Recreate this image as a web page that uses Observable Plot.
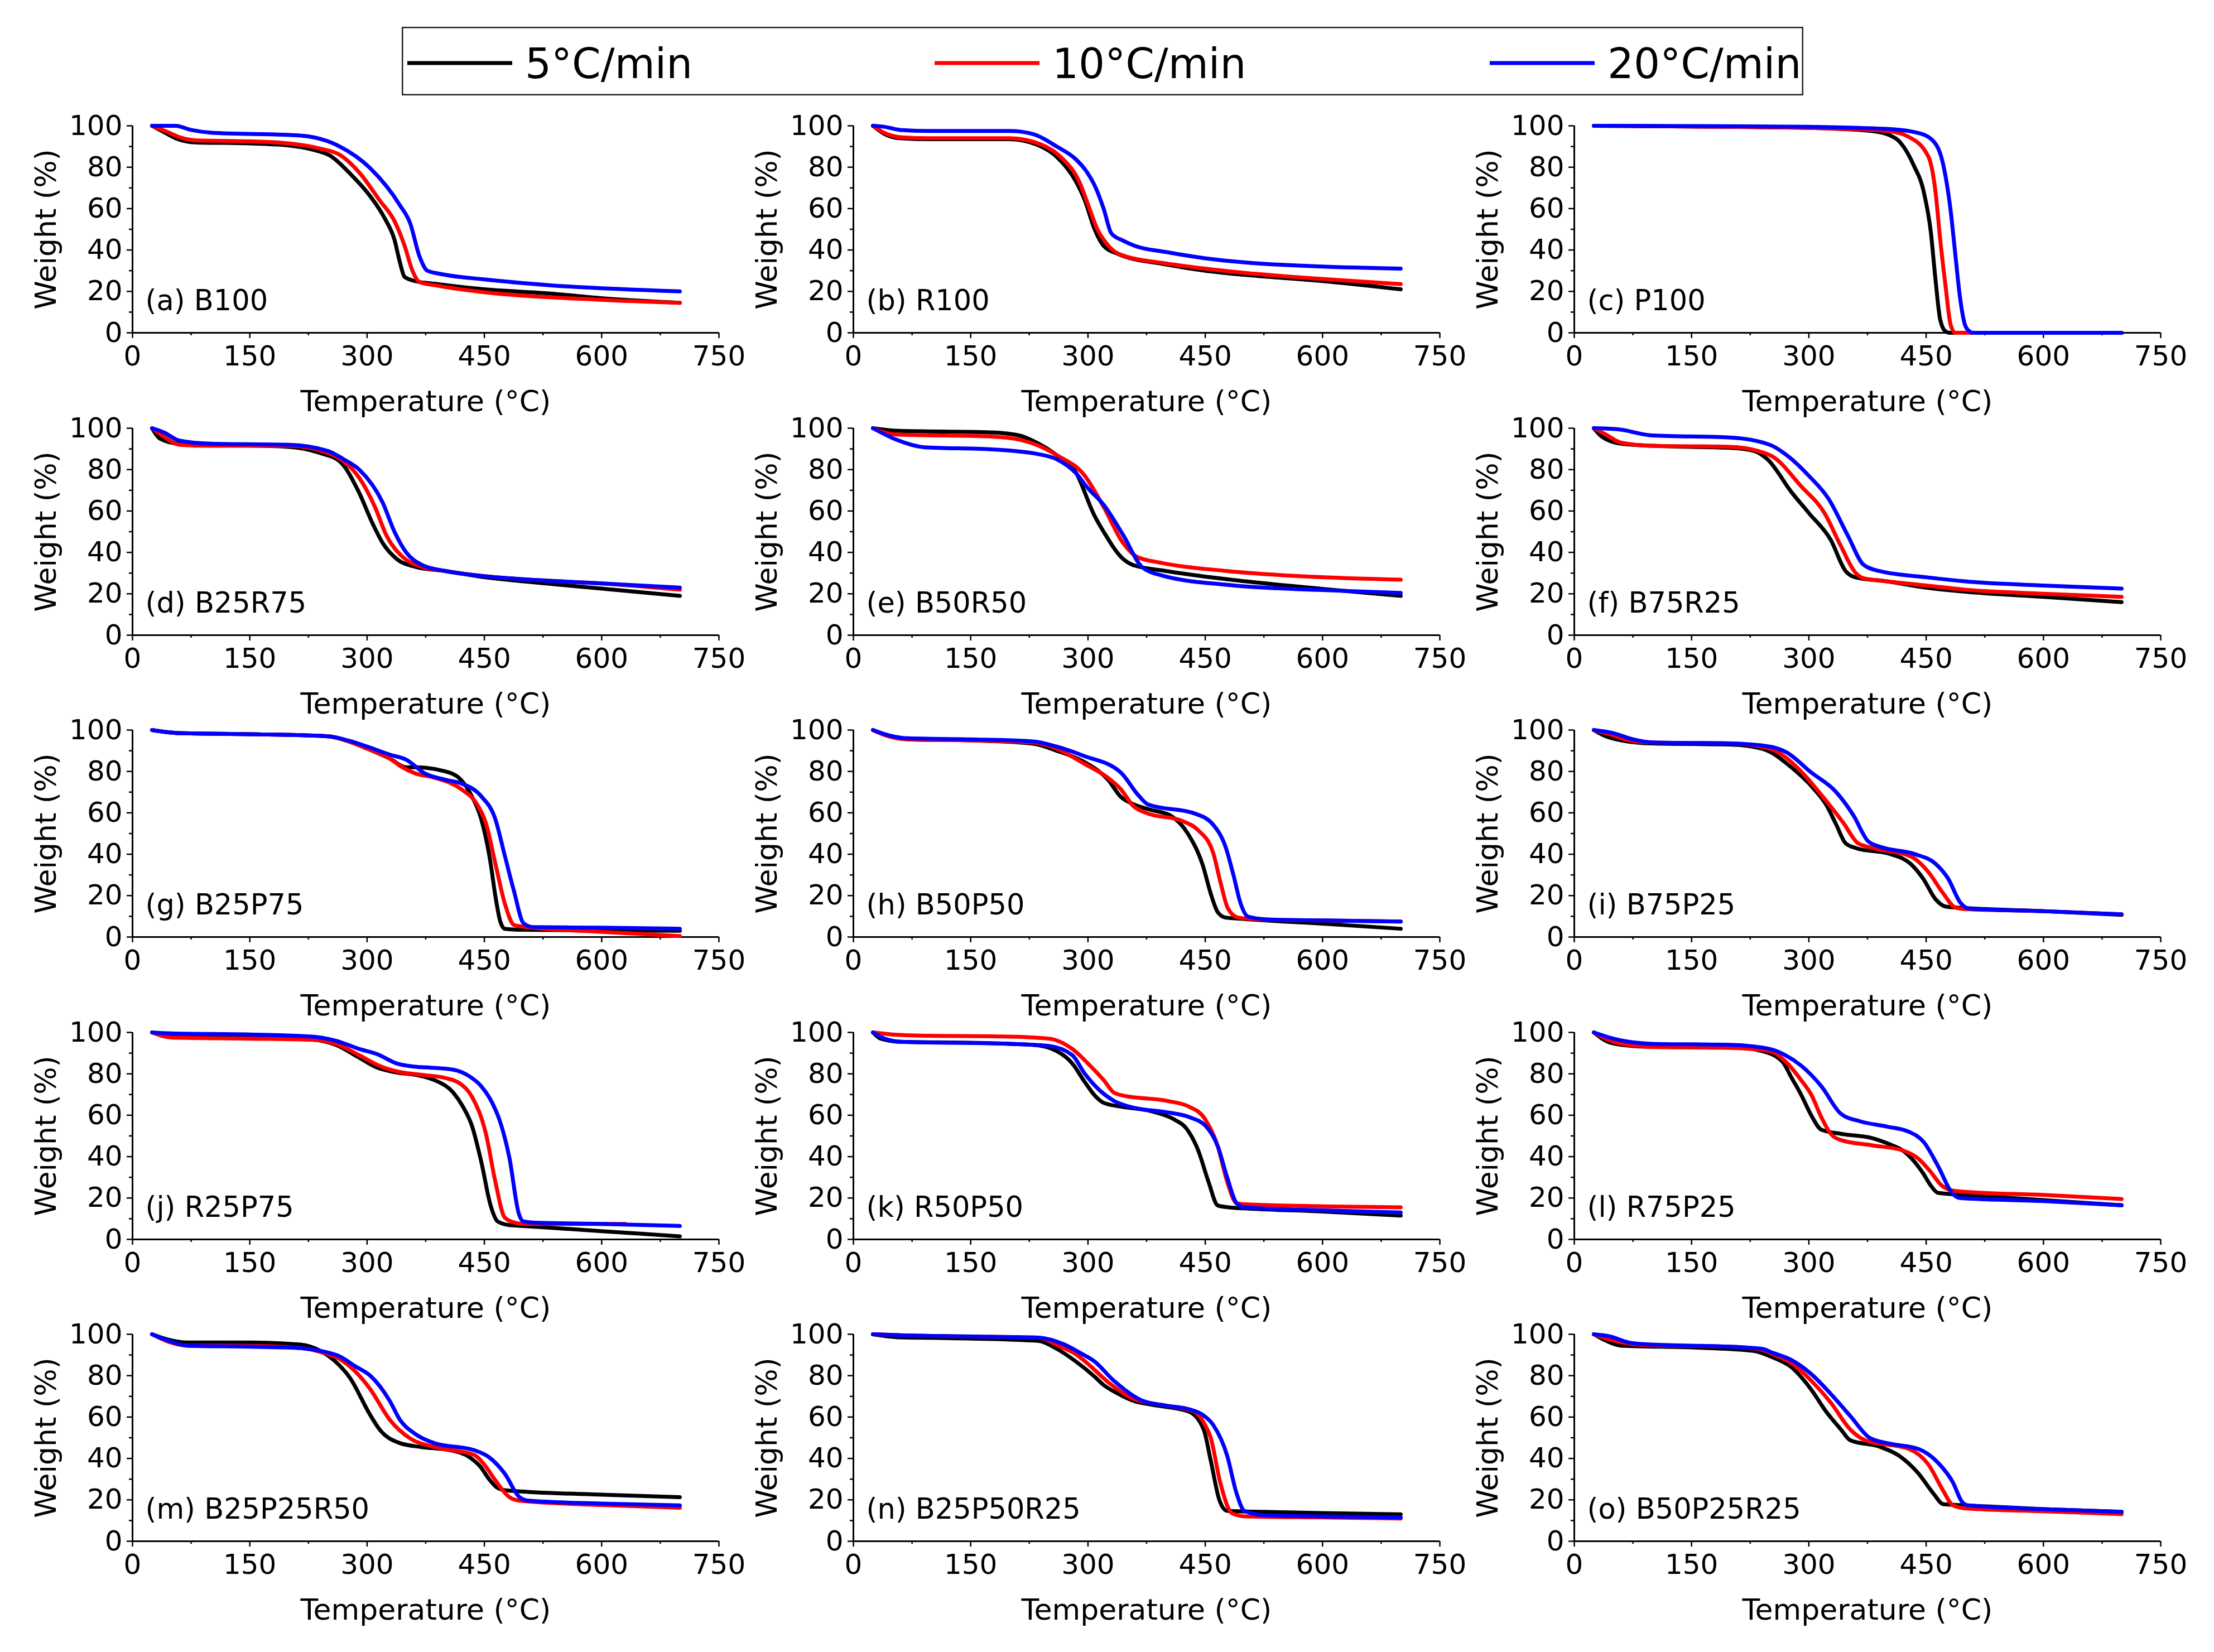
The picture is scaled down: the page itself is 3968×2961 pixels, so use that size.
<!DOCTYPE html>
<html><head><meta charset="utf-8">
<script src="https://cdn.jsdelivr.net/npm/d3@7"></script>
<script src="https://cdn.jsdelivr.net/npm/@observablehq/plot@0.6"></script>
<style>
html,body{margin:0;padding:0;background:#fff;}
#page{position:relative;width:3968px;height:2961px;background:#fff;overflow:hidden;font-family:"DejaVu Sans",sans-serif;}
</style></head><body><div id="page"></div>
<script>
// ---------- labels / ticks ----------
const rates = ["5°C/min", "10°C/min", "20°C/min"];
const rateColors = ["#000000", "#ff0000", "#0000ff"];
const xTicks = [0, 150, 300, 450, 600, 750];
const xMinorTicks = [75, 225, 375, 525, 675];
const yTicks = [0, 20, 40, 60, 80, 100];
const yMinorTicks = [10, 30, 50, 70, 90];
const xTitle = "Temperature (°C)";
const yTitle = "Weight (%)";
const panelLabels = ["(a) B100", "(b) R100", "(c) P100", "(d) B25R75", "(e) B50R50", "(f) B75R25",
  "(g) B25P75", "(h) B50P50", "(i) B75P25", "(j) R25P75", "(k) R50P50", "(l) R75P25",
  "(m) B25P25R50", "(n) B25P50R25", "(o) B50P25R25"];

// ---------- data: [temperature °C, weight %] ----------
const B100_5 = [[25,100],[40,97],[55,94],[80,92],[150,91.5],[200,90.5],[230,88.5],[253,85.5],[278,77],[304,66],[323,55],[335,45],[342,34],[348,27],[361,25],[386,23.7],[450,21],[533,19],[597,16.8],[700,14.5]];
const B100_10 = [[25,100],[45,97],[60,94.5],[80,93],[150,92.5],[200,91.5],[240,89],[265,86],[291,77],[316,64],[335,54],[348,42],[358,30],[367,24.5],[386,23],[450,19.6],[597,16],[700,14.5]];
const B100_20 = [[25,100],[55,100],[75,98],[100,96.7],[215,95.3],[250,92.5],[265,90],[304,79.5],[342,61.6],[355,53],[367,37],[377,30],[393,28.5],[450,25.8],[533,23],[700,20]];

const R100_5 = [[25,100],[40,96],[60,94],[100,93.5],[200,93.5],[240,90],[260,85],[284,73.5],[296,64],[308,50.5],[320,42],[339,38],[400,33],[450,30],[500,28],[600,25],[700,21]];
const R100_10 = [[25,100],[40,96.5],[60,94.5],[100,94],[200,94],[240,91],[265,85],[290,72],[300,62],[312,50],[322,44],[340,38],[400,33.5],[450,31],[500,29],[600,26],[700,23.5]];
const R100_20 = [[25,100],[40,99.5],[60,98],[100,97.5],[200,97.5],[230,96],[260,90],[284,84],[298,78],[310,70],[320,60],[330,48],[345,44.5],[360,42],[400,39],[450,36],[500,34],[600,32],[700,31]];

const P100_5 = [[25,100],[200,99.5],[300,99],[380,97.5],[403,95.5],[415,92.7],[434,81],[447,68],[456,48.6],[462,25.5],[468,6.3],[475,0.6],[480,0],[700,0]];
const P100_10 = [[25,100],[200,99.5],[300,99],[400,97.5],[428,94.6],[453,85],[462,68],[468,45],[475,22],[481,4.4],[487,0],[700,0]];
const P100_20 = [[25,100],[200,99.8],[300,99.5],[400,98.5],[440,96.5],[459,92.7],[472,81],[481,60],[487,39],[493,18],[500,3.5],[506,0.5],[510,0],[700,0]];

const B25R75_5 = [[25,100],[35,95],[60,92.5],[100,92],[200,91],[240,88],[265,84],[289,69.5],[307,54],[320,44.5],[338,36.8],[362,33],[400,31],[450,28],[500,26],[600,22.5],[700,19]];
const B25R75_10 = [[25,100],[40,96],[60,92],[100,91.5],[200,91.5],[250,88],[270,84],[290,76],[310,62],[325,48],[345,38],[370,33],[400,31],[450,28.5],[500,27],[600,25],[700,22]];
const B25R75_20 = [[25,100],[40,98],[60,94],[100,92.5],[200,92],[250,89],[270,85],[290,80],[320,64],[335,50],[350,40],[370,34],[400,31],[450,28.5],[500,27],[600,25],[700,23]];

const B50R50_5 = [[25,100],[54,98.8],[175,98],[212,96.5],[236,92.7],[260,87],[284,79],[308,58],[320,50],[345,36.8],[357,34],[400,31],[478,27],[599,22.4],[700,19]];
const B50R50_10 = [[25,100],[54,97],[175,96],[212,94.5],[236,91.7],[260,87],[296,77],[320,62],[345,44.5],[363,37.8],[393,35],[478,31],[599,28],[700,26.8]];
const B50R50_20 = [[25,100],[54,94.6],[91,90.8],[175,89.8],[236,87.5],[260,85],[284,78.5],[300,71],[320,63],[345,48.4],[369,33],[393,29],[478,24.3],[599,21.8],[700,20.4]];

const B75R25_5 = [[25,100],[35,96],[60,92.5],[100,91.5],[200,90.5],[230,89],[247,85],[278,69],[300,59],[328,46],[347,31],[359,28],[400,26],[450,23],[500,21],[600,18.5],[700,16]];
const B75R25_10 = [[25,100],[40,97],[60,93],[100,91.5],[200,91],[235,89],[255,86],[290,72],[320,59],[341,43],[360,30],[370,27.5],[400,26],[450,24],[500,22],[600,20],[700,18.5]];
const B75R25_20 = [[25,100],[55,99.5],[100,96.5],[200,95.5],[250,92],[275,86],[300,77],[325,66],[350,48],[370,34],[390,31],[450,28],[500,26],[600,24],[700,22.5]];

const B25P75_5 = [[25,100],[60,98.5],[150,98],[250,97],[280,94],[300,91],[330,86],[350,82],[362,82],[400,80],[420,76],[434,68],[446,57],[458,35.6],[464,20],[470,8],[476,4],[500,3.5],[600,3.2],[700,3]];
const B25P75_10 = [[25,100],[60,98.5],[150,98],[250,97],[280,94],[300,91],[330,86],[345,82],[362,79],[386,77],[422,71],[440,64.5],[452,55],[464,35.6],[476,16.4],[488,5.8],[500,5],[600,2.5],[700,0.5]];
const B25P75_20 = [[25,100],[60,98.5],[150,98],[250,97],[280,94.5],[300,92],[330,88],[350,85.7],[374,79],[400,76],[422,74],[446,68],[464,57],[476,39.5],[488,22],[500,6.7],[512,4.8],[600,4.5],[700,4]];

const B50P50_5 = [[25,100],[45,97],[70,95.5],[150,95],[230,93.4],[260,90],[294,84.8],[326,75.8],[342,67.7],[358,64.2],[380,61.5],[405,58.8],[428,49.8],[447,34.5],[457,21],[466,12],[476,9.4],[500,8.7],[550,7.5],[600,6.5],[700,4]];
const B50P50_10 = [[25,100],[45,97],[70,95.5],[150,95],[230,94],[260,91],[294,84],[326,76.8],[342,71.4],[358,63.3],[374,60],[421,56],[441,51.6],[460,40.8],[470,25.6],[479,13.8],[492,9.4],[520,8.5],[600,8],[700,7.5]];
const B50P50_20 = [[25,100],[45,97.5],[70,96],[150,95.5],[230,94.5],[260,92],[294,87.6],[342,79.5],[364,68.7],[377,64],[437,59.6],[460,54.3],[476,43.5],[486,30],[495,16.5],[505,9.8],[530,8.5],[600,8],[700,7.5]];

const B75P25_5 = [[25,100],[40,97],[60,95],[100,93.5],[200,93],[240,91],[255,88.5],[271,84],[303,73],[322,64],[335,54.3],[347,45.3],[360,43],[405,40],[430,35.4],[446,28.3],[462,18.3],[475,14.7],[500,14],[600,12.5],[700,10.7]];
const B75P25_10 = [[25,100],[45,98],[70,95],[100,94],[200,93.5],[250,91],[271,86.6],[295,78],[318,67.7],[344,55.2],[363,45.3],[382,43],[430,39],[452,31.8],[472,21],[487,14.3],[500,13.5],[600,12.5],[700,11]];
const B75P25_20 = [[25,100],[50,98.5],[75,95.5],[100,94],[200,93.5],[250,92],[271,89.3],[303,79.5],[334,70.4],[357,58.8],[376,46.2],[392,43.5],[436,40],[462,35.4],[478,28.3],[494,16.5],[504,13.8],[550,13],[600,12.5],[700,11]];

const R25P75_5 = [[25,100],[50,98],[150,97.5],[230,96.5],[260,94],[289,88],[313,83],[340,80.5],[362,79.5],[386,77],[410,71],[422,64.5],[434,55],[446,37.6],[458,16.4],[467,8.7],[480,7],[500,6.5],[600,4],[700,1.5]];
const R25P75_10 = [[25,100],[50,97.5],[150,97],[230,96.5],[260,94.5],[290,89],[315,84],[340,81],[370,79.5],[400,78],[420,75],[434,69],[452,51],[464,28],[476,10.6],[490,8],[500,7.5],[600,7.5],[630,7.5]];
const R25P75_20 = [[25,100],[50,99.5],[150,99],[230,98],[260,96],[290,92],[313,89.5],[338,85],[360,83.5],[380,83],[410,82],[430,79],[446,74],[460,66],[470,57],[482,39.5],[494,12.5],[500,8.7],[520,8],[600,7.5],[700,6.5]];

const R50P50_5 = [[25,100],[35,97],[60,95.5],[150,95],[230,94],[260,91],[280,85],[296,76],[310,69],[320,66],[345,64],[380,62],[410,58],[425,54],[441,43],[454,28],[466,16.4],[480,15.5],[500,15],[600,13.5],[700,11.5]];
const R50P50_10 = [[25,100],[50,99],[80,98.5],[200,98],[250,97],[280,92],[300,85],[320,77],[333,71],[345,69.5],[400,67],[430,64],[450,58],[466,45],[478,28],[490,17.5],[500,17],[600,16],[700,15.5]];
const R50P50_20 = [[25,100],[40,97],[60,95.5],[200,94.5],[250,93.5],[280,89],[296,80],[315,72],[333,67],[360,63.5],[400,61.5],[430,59],[450,55],[466,45],[478,30],[490,17.5],[500,15.5],[600,14],[700,13]];

const R75P25_5 = [[25,100],[40,96],[60,94],[100,93],[200,93],[240,91],[266,86],[278,78],[290,70],[303,60],[316,53],[341,51],[380,49],[403,46],[420,43],[434,38],[446,32],[456,26],[465,22.5],[500,21.5],[600,19],[700,16.5]];
const R75P25_10 = [[25,100],[40,97],[60,94.5],[100,93],[200,92.5],[250,91],[270,86],[290,77],[303,70],[316,59],[328,51],[341,48],[380,45.5],[420,43],[440,39],[455,33],[470,26],[485,23.5],[500,23],[600,21.5],[700,19.5]];
const R75P25_20 = [[25,100],[50,97],[80,95],[100,94.5],[200,94],[250,92],[270,89],[290,84],[316,74],[341,60.7],[366,57],[400,54.5],[428,52],[447,47],[465,35.6],[484,22],[493,20],[600,18.5],[700,16.5]];

const B25P25R50_5 = [[25,100],[45,97.5],[70,96],[150,96],[215,95],[240,92],[259,87],[278,79],[304,61],[316,54],[342,47.4],[370,45.5],[406,44],[431,40.6],[445,36],[456,30],[466,26],[476,24.7],[500,24],[600,22.5],[700,21.3]];
const B25P25R50_10 = [[25,100],[45,96.5],[70,94.5],[150,94.4],[215,93.3],[240,91.5],[265,88],[285,82],[304,73.5],[329,58.7],[355,49.7],[393,45],[437,41.7],[450,37],[463,30],[482,21.3],[495,19.6],[600,17.5],[700,16.2]];
const B25P25R50_20 = [[25,100],[45,97],[70,94.5],[150,94],[215,93.3],[240,92],[265,89.3],[285,84.5],[304,80],[329,67.8],[342,58.7],[361,52],[386,47.4],[437,44],[456,40.6],[476,32.7],[495,21.3],[507,19.6],[600,18.2],[700,17.3]];

const B25P50R25_5 = [[25,100],[60,98.5],[115,98.2],[236,96.8],[260,93],[284,87],[308,79.7],[320,75.5],[340,71],[357,68],[381,66],[429,62.7],[448,54],[457,39],[468,20],[478,14.7],[526,14.2],[600,13.6],[700,13]];
const B25P50R25_10 = [[25,100],[60,99.5],[115,99.1],[236,98.4],[265,94],[284,90.5],[296,87],[327,76.5],[357,69],[400,65.5],[435,62.7],[450,56],[457,50],[469,28.6],[484,13.6],[502,12],[600,11.5],[700,11]];
const B25P50R25_20 = [[25,100],[60,99.5],[115,99.1],[236,98.4],[270,95],[290,91],[308,87],[333,77.6],[369,68],[400,65.5],[429,63.8],[447,61],[460,56.3],[478,41.4],[490,23.2],[500,14.7],[526,12.6],[600,12],[700,11.5]];

const B50P25R25_5 = [[25,100],[40,97],[60,94.5],[154,93.6],[229,92],[254,88.8],[278,84],[303,73.3],[322,62.7],[341,54],[353,48.8],[391,45.6],[415,41.4],[440,32.8],[459,23.2],[472,17.9],[496,17.4],[600,15.5],[700,14.2]];
const B50P25R25_10 = [[25,100],[45,97.5],[70,95.5],[100,94.7],[200,94],[240,92.5],[254,90.4],[278,86],[303,77.6],[328,67],[353,54],[372,48.8],[428,44.6],[453,37],[472,24.3],[484,17.4],[503,15.8],[600,14.5],[700,13.1]];
const B50P25R25_20 = [[25,100],[45,99],[70,96],[100,95],[200,94],[240,93],[254,91],[278,87.5],[303,80.8],[328,71.2],[353,60.5],[378,49.9],[403,47.2],[440,44.6],[465,38],[484,28.6],[496,19],[503,17.4],[600,15.5],[700,14.2]];

const panelSeries = [
  [B100_5, B100_10, B100_20], [R100_5, R100_10, R100_20], [P100_5, P100_10, P100_20],
  [B25R75_5, B25R75_10, B25R75_20], [B50R50_5, B50R50_10, B50R50_20], [B75R25_5, B75R25_10, B75R25_20],
  [B25P75_5, B25P75_10, B25P75_20], [B50P50_5, B50P50_10, B50P50_20], [B75P25_5, B75P25_10, B75P25_20],
  [R25P75_5, R25P75_10, R25P75_20], [R50P50_5, R50P50_10, R50P50_20], [R75P25_5, R75P25_10, R75P25_20],
  [B25P25R50_5, B25P25R50_10, B25P25R50_20], [B25P50R25_5, B25P50R25_10, B25P50R25_20], [B50P25R25_5, B50P25R25_10, B50P25R25_20]
];

// ---------- layout ----------
const page = document.getElementById("page");
const FONT = "DejaVu Sans";
const colW = 1292, rowH = 541.5;

function makePanel(label, series) {
  const data = series.flatMap((arr, k) => arr.map(([T, W]) => ({T, W, rate: rates[k]})));
  return Plot.plot({
    width: 1292, height: 541,
    marginLeft: 237, marginRight: 4, marginTop: 30, marginBottom: 140,
    style: {background: "transparent", overflow: "visible", fontFamily: FONT, maxWidth: "none", position: "absolute"},
    x: {domain: [0, 750]},
    y: {domain: [0, 100]},
    color: {domain: rates, range: rateColors},
    marks: [
      Plot.axisX(xMinorTicks, {tickSize: 5, strokeWidth: 2.5, fill: "none", label: null}),
      Plot.axisX(xTicks, {tickSize: 10, tickPadding: 13, strokeWidth: 2.5, fontSize: 50, fill: "black", label: null}),
      Plot.axisY(yMinorTicks, {tickSize: 6, strokeWidth: 2.5, fill: "none", label: null}),
      Plot.axisY(yTicks, {tickSize: 10, tickPadding: 8, strokeWidth: 2.5, fontSize: 50, fill: "black", label: null}),
      Plot.ruleX([0], {stroke: "black", strokeWidth: 3}),
      Plot.ruleY([0], {stroke: "black", strokeWidth: 3}),
      Plot.line(data, {x: "T", y: "W", stroke: "rate", z: "rate", strokeWidth: 7, curve: "monotone-x"}),
      Plot.text([label], {text: d => d, frameAnchor: "bottom-left", dx: 23, dy: -41, textAnchor: "start", lineAnchor: "bottom", fontSize: 51, fill: "black"}),
      Plot.text([xTitle], {text: d => d, frameAnchor: "bottom", dy: 124, textAnchor: "middle", lineAnchor: "middle", fontSize: 52, fill: "black"}),
      Plot.text([yTitle], {text: d => d, frameAnchor: "left", dx: -154, rotate: -90, textAnchor: "middle", lineAnchor: "middle", fontSize: 52, fill: "black"})
    ]
  });
}

panelLabels.forEach((label, i) => {
  const col = i % 3, row = Math.floor(i / 3);
  const svg = makePanel(label, panelSeries[i]);
  svg.style.left = (col * colW) + "px";
  svg.style.top = (195 + row * rowH) + "px";
  page.appendChild(svg);
});

// ---------- legend ----------
const legendX = [10, 955, 1950];
const leg = d3.create("svg")
  .attr("width", 2512).attr("height", 123)
  .style("position", "absolute").style("left", "720px").style("top", "48px")
  .style("font-family", FONT);
leg.append("rect").attr("x", 1.25).attr("y", 1.25).attr("width", 2509.5).attr("height", 120.5)
  .attr("fill", "white").attr("stroke", "#222").attr("stroke-width", 2.5);
rates.forEach((r, k) => {
  leg.append("line").attr("x1", legendX[k]).attr("x2", legendX[k] + 188)
    .attr("y1", 65).attr("y2", 65).attr("stroke", rateColors[k]).attr("stroke-width", 7);
  leg.append("text").attr("x", legendX[k] + 211).attr("y", 92)
    .attr("font-size", 74).attr("fill", "black").text(r);
});
page.appendChild(leg.node());
</script></body></html>
